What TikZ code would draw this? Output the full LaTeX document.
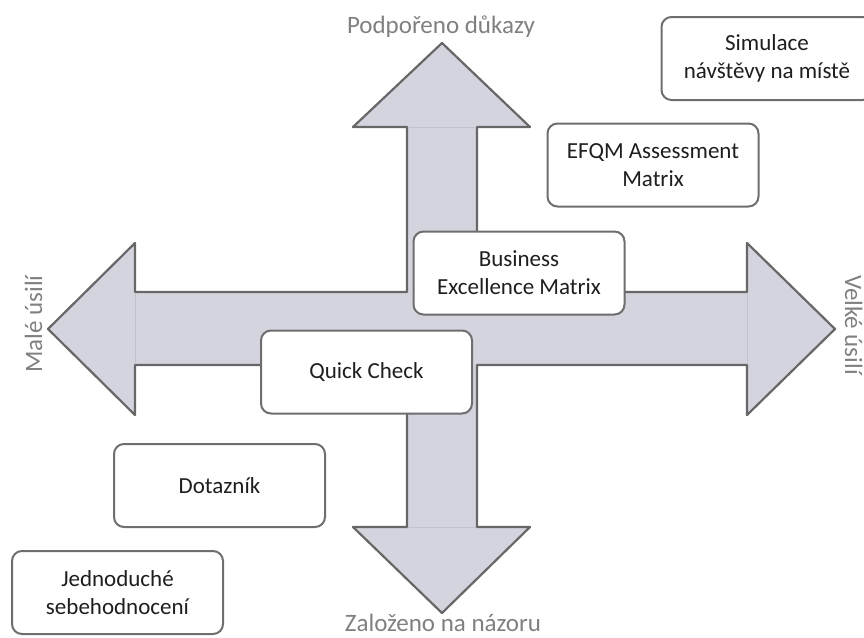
\documentclass[tikz,border=0pt]{standalone}
\usepackage{fontspec}
\setmainfont{Carlito}
\usepackage{tikz}
\definecolor{crossfill}{HTML}{D4D4DF}
\definecolor{crossline}{HTML}{676767}
\definecolor{seamline}{HTML}{C2C2CE}
\definecolor{boxline}{HTML}{6E6E6E}
\definecolor{labelgray}{HTML}{808080}
\definecolor{textdark}{HTML}{1E1E1E}
\tikzset{
	methodbox/.style={draw=boxline, line width=2pt, rounded corners=10pt, fill=white,
		minimum width=211pt, minimum height=83pt, inner sep=0pt, align=center,
		text=textdark, font=\fontsize{23}{28}\selectfont},
	axislabel/.style={text=labelgray, inner sep=0pt, font=\fontsize{25}{30}\selectfont},
}

\begin{document}
\begin{tikzpicture}[x=1pt, y=-1pt]
			%%%%% START %%%%%
			\useasboundingbox (0, 0) rectangle (864, 637);
			
			% cross of four arrows
			\draw[fill=crossfill, draw=crossline, line width=2.2pt, line join=round]
				(442, 43) -- (530, 127) -- (477, 127) -- (477, 292) -- (747, 292) -- (747, 243)
				-- (835, 329) -- (747, 415) -- (747, 365) -- (477, 365) -- (477, 527) -- (530, 527)
				-- (442, 613) -- (353, 527) -- (407, 527) -- (407, 365) -- (135, 365) -- (135, 415)
				-- (48, 329) -- (135, 243) -- (135, 292) -- (407, 292) -- (407, 127) -- (353, 127) -- cycle;
			\draw[seamline, line width=0.8pt] (408, 127) -- (476, 127);
			\draw[seamline, line width=0.8pt] (408, 527) -- (476, 527);
			\draw[seamline, line width=0.8pt] (135, 293) -- (135, 364);
			\draw[seamline, line width=0.8pt] (747, 293) -- (747, 364);
			
			% axis labels
			\node[axislabel, anchor=base] (evidence) at (441, 33) {Podpořeno důkazy};
			\node[axislabel, anchor=base] (opinion) at (443, 631) {Založeno na názoru};
			\node[axislabel, anchor=base, rotate=90] (loweffort) at (42, 324) {Malé úsilí};
			\node[axislabel, anchor=base, rotate=-90] (higheffort) at (845, 325) {Velké úsilí};
			
			% methods
			\node[methodbox] (simulation) at (767, 58.5) {Simulace\\návštěvy na místě};
			\node[methodbox] (efqm) at (653, 165) {EFQM Assessment\\Matrix};
			\node[methodbox] (bem) at (519, 273) {Business\\Excellence Matrix};
			\node[methodbox] (quickcheck) at (366.5, 372) {Quick Check};
			\node[methodbox] (survey) at (219.5, 485.5) {Dotazník};
			\node[methodbox] (selfassess) at (117.5, 592.5) {Jednoduché\\sebehodnocení};
			
			%%%%% END %%%%%
		\end{tikzpicture}
\end{document}
